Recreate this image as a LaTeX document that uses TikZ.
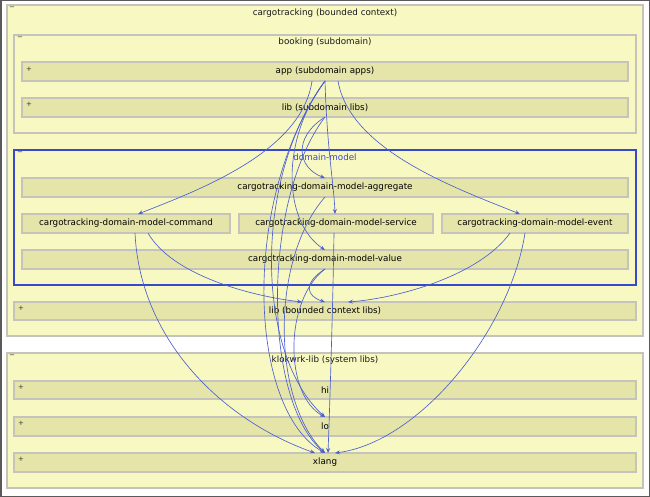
\documentclass[tikz,border=0pt]{standalone}
\usepackage{fontspec}
\setmainfont{DejaVu Sans}
\usetikzlibrary{arrows.meta}
\definecolor{paneyellow}{RGB}{248,248,194}
\definecolor{cellkhaki}{RGB}{229,229,170}
\definecolor{framegray}{RGB}{196,196,188}
\definecolor{dmblue}{RGB}{58,72,204}
\definecolor{depblue}{RGB}{76,96,204}
\definecolor{windowgray}{RGB}{90,90,90}
\begin{document}
\begin{tikzpicture}[x=1bp,y=-1bp,
  font=\fontsize{8.8}{10}\selectfont,
  pane/.style={draw=framegray, line width=1.4bp, fill=paneyellow, inner sep=0pt, outer sep=0pt},
  cell/.style={draw=framegray, line width=1.4bp, fill=cellkhaki, inner sep=0pt, outer sep=0pt, minimum height=19bp},
  title/.style={inner sep=0pt, text=black!90},
  toggle/.style={inner sep=0pt, font=\fontsize{7}{8}\selectfont, text=black!80},
  dep/.style={draw=depblue, line width=0.65bp, -{Stealth[length=5bp,width=4bp,inset=1.8bp]}}
]
\useasboundingbox (0,0) rectangle (650,497);
\fill[white] (0,0) rectangle (650,497);

% bounded context and its subdomain
\node[pane, minimum width=636bp, minimum height=331bp] (cargo) at (325,170.5) {};
\node[title] (cargot) at (325,13) {cargotracking (bounded context)};
\node[toggle] (cargotg) at (12,8.5) {−};

\node[pane, minimum width=622bp, minimum height=98bp] (booking) at (325,84) {};
\node[title] (bookingt) at (325,42) {booking (subdomain)};
\node[toggle] (bookingtg) at (20,38) {−};

\node[cell, minimum width=606bp] (app) at (325,71.5) {app (subdomain apps)};
\node[toggle] (apptg) at (29,69) {+};
\node[cell, minimum width=606bp] (sublib) at (325,107.5) {lib (subdomain libs)};
\node[toggle] (sublibtg) at (29,104) {+};

% domain model
\node[pane, draw=dmblue, minimum width=622bp, minimum height=135bp] (dm) at (325,217.5) {};
\node[title, text=dmblue] (dmt) at (325,157) {domain-model};
\node[toggle] (dmtg) at (20,153) {−};

\node[cell, minimum width=606bp] (agg) at (325,187.5) {cargotracking-domain-model-aggregate};
\node[cell, minimum width=208bp] (cmd) at (126,223.5) {cargotracking-domain-model-command};
\node[cell, minimum width=194bp] (svc) at (336,223.5) {cargotracking-domain-model-service};
\node[cell, minimum width=186bp] (evt) at (535,223.5) {cargotracking-domain-model-event};
\node[cell, minimum width=606bp] (val) at (325,259.5) {cargotracking-domain-model-value};

\node[cell, minimum width=622bp, minimum height=18bp] (bclib) at (325,311) {lib (bounded context libs)};
\node[toggle] (bclibtg) at (21,308) {+};

% system libraries
\node[pane, minimum width=636bp, minimum height=135bp] (klok) at (325,420.5) {};
\node[title] (klokt) at (325,360) {klokwrk-lib (system libs)};
\node[toggle] (kloktg) at (12,356) {−};

\node[cell, minimum width=622bp, minimum height=18bp] (hi) at (325,390) {hi};
\node[toggle] (hitg) at (21,387) {+};
\node[cell, minimum width=622bp] (lo) at (325,426.5) {lo};
\node[toggle] (lotg) at (21,423) {+};
\node[cell, minimum width=622bp] (xlang) at (325,462.5) {xlang};
\node[toggle] (xlangtg) at (21,459) {+};

% dependencies
\draw[dep] ([xshift=-13bp]app.south) .. controls (302,150) and (205,188) .. ([xshift=12bp]cmd.north);
\draw[dep] ([xshift=13bp]app.south) .. controls (350,150) and (455,188) .. ([xshift=-15bp]evt.north);
\draw[dep] (app.south) .. controls (327,150) and (334,185) .. ([xshift=-1bp]svc.north);
\draw[dep] (sublib.south) .. controls (292,138) and (298,168) .. (agg.north);
\draw[dep] (app.south) .. controls (280,140) and (283,222) .. (val.north);
\draw[dep] (app.south) .. controls (252,180) and (256,355) .. (lo.north);
\draw[dep] (app.south) .. controls (240,200) and (248,410) .. (xlang.north);
\draw[dep] (sublib.south) .. controls (262,200) and (262,400) .. (xlang.north);
\draw[dep] (agg.south) .. controls (270,260) and (272,400) .. (xlang.north);
\draw[dep] (val.south) .. controls (303,283) and (306,296) .. (bclib.north);
\draw[dep] (val.south) .. controls (284,300) and (284,395) .. (lo.north);
\draw[dep] ([xshift=22bp]cmd.south) .. controls (172,275) and (250,296) .. ([xshift=-23bp]bclib.north);
\draw[dep] ([xshift=9bp]cmd.south) .. controls (140,340) and (222,420) .. ([xshift=-10bp]xlang.north);
\draw[dep] ([xshift=-2bp]svc.south) .. controls (333,300) and (330,400) .. ([xshift=3bp]xlang.north);
\draw[dep] ([xshift=-25bp]evt.south) .. controls (480,275) and (400,298) .. ([xshift=23bp]bclib.north);
\draw[dep] ([xshift=-10bp]evt.south) .. controls (510,330) and (420,442) .. ([xshift=10bp]xlang.north);

% window frame
\draw[windowgray, line width=1.5bp] (0.75,0.75) rectangle (649.25,496.25);
\end{tikzpicture}
\end{document}
